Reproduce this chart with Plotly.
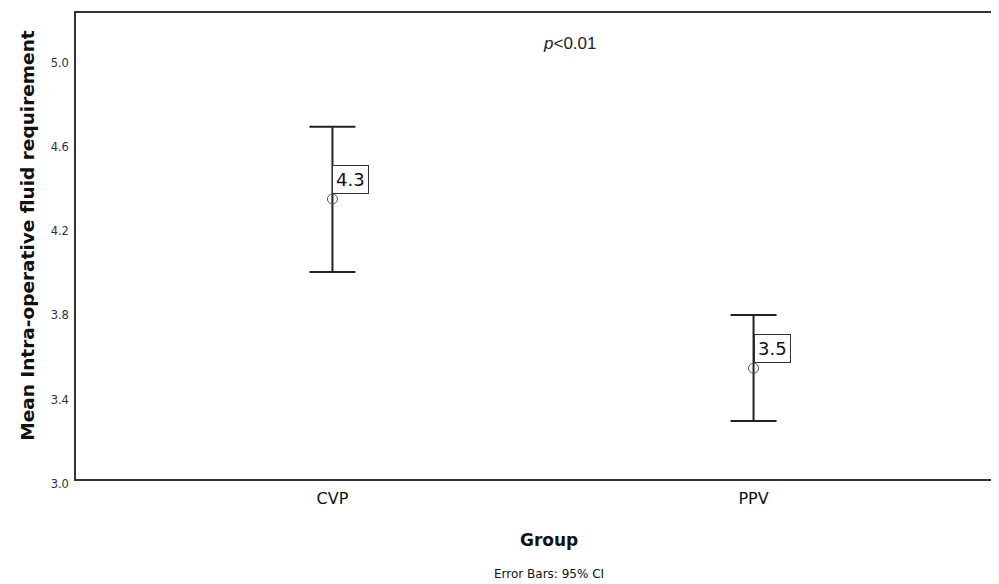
import plotly.graph_objects as go

groups = ["CVP", "PPV"]
means = [4.329, 3.526]
upper = [4.672, 3.778]
lower = [3.983, 3.275]
labels = ["4.3", "3.5"]
yticks = [3.0, 3.4, 3.8, 4.2, 4.6, 5.0]

xpos = list(range(len(groups)))
err_plus = [u - m for u, m in zip(upper, means)]
err_minus = [m - l for m, l in zip(means, lower)]

fig = go.Figure()
fig.add_trace(go.Scatter(
    x=xpos, y=means, mode="markers",
    marker=dict(symbol="circle-open", size=10, color="#555555", line=dict(width=1)),
    error_y=dict(type="data", symmetric=False, array=err_plus, arrayminus=err_minus,
                 color="#222222", thickness=2, width=23),
    showlegend=False, hoverinfo="skip",
))

for x, m, lab in zip(xpos, means, labels):
    fig.add_annotation(x=x, y=m, text=lab, showarrow=False, xanchor="left", yanchor="bottom",
                       xshift=0, yshift=5, font=dict(family="DejaVu Sans", size=18, color="#111111"),
                       bordercolor="#333333", borderwidth=1, borderpad=3, bgcolor="white")

fig.add_annotation(xref="paper", yref="paper", x=0.538, y=0.934, yanchor="middle",
                   text="<i>p</i><0.01",
                   showarrow=False, font=dict(family="Liberation Sans", size=17, color="#222222"))
fig.add_annotation(xref="paper", yref="paper", x=0.515, y=-0.13, yanchor="middle",
                   text="<b>Group</b>", showarrow=False,
                   font=dict(family="DejaVu Sans", size=17, color="#111111"))
fig.add_annotation(xref="paper", yref="paper", x=0.515, y=-0.204, yanchor="middle",
                   text="Error Bars: 95% CI", showarrow=False,
                   font=dict(family="DejaVu Sans", size=12, color="#111111"))
fig.add_annotation(xref="paper", yref="paper", x=0, xshift=-48, y=0.522,
                   xanchor="center", yanchor="middle", textangle=-90,
                   text="<b>Mean Intra-operative fluid requirement</b>", showarrow=False,
                   font=dict(family="DejaVu Sans", size=18.5, color="#111111"))

fig.update_layout(
    width=991, height=576,
    margin=dict(l=68, r=3, t=4, b=105),
    paper_bgcolor="white", plot_bgcolor="white",
    xaxis=dict(range=[-0.609, 1.571], tickvals=xpos, ticktext=groups, showgrid=False,
               zeroline=False, showline=True, linecolor="#333333", linewidth=1.5, mirror=True,
               ticks="", ticklabelstandoff=4,
               tickfont=dict(family="DejaVu Sans", size=16, color="#111111")),
    yaxis=dict(range=[3.0, 5.212], tickvals=yticks, ticktext=[f"{v:.1f}" for v in yticks],
               showgrid=False, zeroline=False, showline=True, linecolor="#333333", linewidth=1.5,
               mirror=True, ticks="", ticklabelstandoff=3, ticklabelshift=5,
               tickfont=dict(family="DejaVu Sans", size=11.5, color="#333333")),
)

fig.write_html("out.html")
